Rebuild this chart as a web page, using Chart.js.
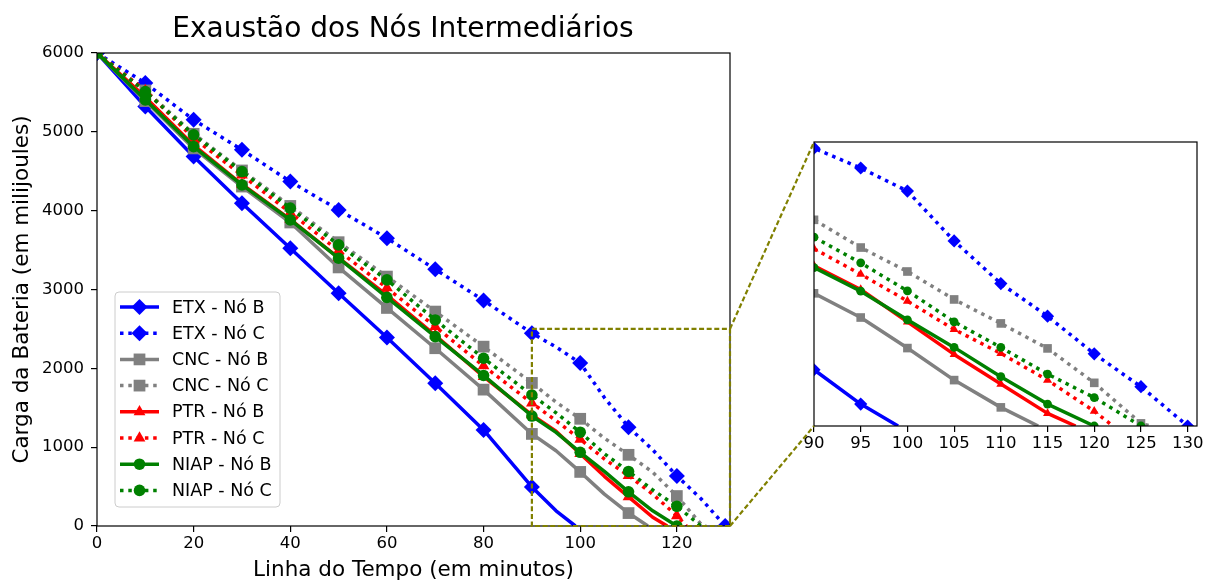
<!DOCTYPE html>
<html><head><meta charset="utf-8">
<script src="https://cdn.jsdelivr.net/npm/chart.js@4.4.1/dist/chart.umd.min.js"></script>
<style>
html,body{margin:0;padding:0;background:#fff;}
#wrap{position:relative;width:1218px;height:583px;background:#fff;}
canvas{position:absolute;}
</style></head><body>
<div id="wrap">
<canvas id="main" width="745" height="583" style="left:0;top:0"></canvas>
<canvas id="inset" width="518" height="583" style="left:700px;top:0"></canvas>
</div>
<script>
// ---- data (minutes, battery charge in millijoules) ----
const minutes = [0,10,20,30,40,50,60,70,80,90,95,100,105,110,115,120,125,130];
const seriesNames = ['ETX - Nó B','ETX - Nó C','CNC - Nó B','CNC - Nó C','PTR - Nó B','PTR - Nó C','NIAP - Nó B','NIAP - Nó C'];
const etxB  = [6000,5321,4687,4095,3524,2953,2392,1811,1218,495,193,null,null,null,null,null,null,null];
const etxC  = [6000,5618,5152,4772,4369,4010,3651,3256,2862,2445,2271,2068,1629,1254,967,635,346,0];
const cncB  = [6000,5390,4790,4306,3850,3280,2766,2255,1730,1168,955,686,404,164,null,null,null,null];
const cncC  = [6000,5525,4975,4510,4060,3600,3164,2720,2275,1815,1571,1360,1114,903,683,380,23,null];
const ptrB  = [6000,5440,4830,4335,3890,3400,2930,2420,1895,1410,1202,917,630,369,111,null,null,null];
const ptrC  = [6000,5525,4920,4450,3975,3490,3020,2529,2030,1560,1336,1100,850,639,404,130,null,null];
const niapB = [6000,5406,4813,4327,3883,3397,2900,2402,1910,1395,1187,935,692,434,193,0,null,null];
const niapC = [6000,5511,4962,4496,4032,3566,3122,2614,2128,1662,1436,1190,917,692,457,250,0,null];
// minute at which each series reaches zero
const exhaustedAt = [99,130,114,126,118,122,120,125];
const seriesValues = [etxB, etxC, cncB, cncC, ptrB, ptrC, niapB, niapC];

// tick labels
const yTicks = [0,1000,2000,3000,4000,5000,6000];
const xTicksMain = [0,20,40,60,80,100,120];
const xTicksInset = [90,95,100,105,110,115,120,125,130];
const zoomRange = {xMin: 90, xMax: 131, yMin: 0, yMax: 2500};

// ---- styles ----
const FONT = "'DejaVu Sans', 'Liberation Sans', sans-serif";
const colors = ['#0000ff','#0000ff','#808080','#808080','#ff0000','#ff0000','#008000','#008000'];
const dotted = [false,true,false,true,false,true,false,true];
const markers = ['rectRot','rectRot','rect','rect','triangle','triangle','circle','circle'];
const mainRadius = {rectRot: 8, rect: 8.3, triangle: 6.8, circle: 5.8};
const insetRadius = {rectRot: 6.6, rect: 6.1, triangle: 5.2, circle: 4.4};
const DASH = [3.5, 4.8];
const LW = 3.5;

function buildPoints(vals, endAt) {
  const pts = [];
  minutes.forEach((m, i) => { if (vals[i] !== null) pts.push({x: m, y: vals[i]}); });
  if (pts[pts.length - 1].y > 0) pts.push({x: endAt, y: 0});
  return pts;
}

function makeDatasets(radiusMap, showMarker) {
  return seriesNames.map((name, i) => ({
    label: name,
    data: buildPoints(seriesValues[i], exhaustedAt[i]),
    borderColor: colors[i],
    backgroundColor: colors[i],
    borderWidth: LW,
    borderDash: dotted[i] ? DASH : [],
    borderCapStyle: 'butt',
    borderJoinStyle: 'round',
    pointStyle: markers[i],
    pointRadius: (ctx) => (ctx.raw && showMarker(ctx.raw.x)) ? radiusMap[markers[i]] : 0,
    pointHoverRadius: 0,
    pointBackgroundColor: colors[i],
    pointBorderColor: colors[i],
    pointBorderWidth: 0,
    tension: 0,
    clip: 0,
    order: seriesNames.length - i
  }));
}

function drawMarker(ctx, style, x, y, r, color) {
  ctx.save();
  ctx.fillStyle = color;
  ctx.beginPath();
  if (style === 'circle') {
    ctx.arc(x, y, r, 0, Math.PI * 2);
  } else if (style === 'rect') {
    const s = Math.SQRT1_2 * r;
    ctx.rect(x - s, y - s, 2 * s, 2 * s);
  } else if (style === 'rectRot') {
    ctx.moveTo(x, y - r); ctx.lineTo(x + r, y); ctx.lineTo(x, y + r); ctx.lineTo(x - r, y);
  } else if (style === 'triangle') {
    for (let k = 0; k < 3; k++) {
      const a = k * 2 * Math.PI / 3;
      const px = x + Math.sin(a) * r, py = y - Math.cos(a) * r;
      if (k === 0) ctx.moveTo(px, py); else ctx.lineTo(px, py);
    }
  }
  ctx.closePath();
  ctx.fill();
  ctx.restore();
}

const framePlugin = {
  id: 'frame',
  afterDraw(chart) {
    const {ctx, chartArea: a} = chart;
    ctx.save();
    ctx.strokeStyle = '#000';
    ctx.lineWidth = 1.2;
    ctx.strokeRect(a.left, a.top, a.right - a.left, a.bottom - a.top);
    ctx.restore();
  }
};

const mainExtras = {
  id: 'mainExtras',
  afterDraw(chart) {
    const {ctx, chartArea: a, scales} = chart;
    // title
    ctx.save();
    ctx.fillStyle = '#000';
    ctx.font = '28px ' + FONT;
    ctx.textAlign = 'center';
    ctx.textBaseline = 'alphabetic';
    ctx.fillText('Exaustão dos Nós Intermediários', 403, 37);
    ctx.restore();
    // zoom box
    const x0 = scales.x.getPixelForValue(zoomRange.xMin), x1 = scales.x.getPixelForValue(zoomRange.xMax);
    const y0 = scales.y.getPixelForValue(zoomRange.yMin), y1 = scales.y.getPixelForValue(zoomRange.yMax);
    ctx.save();
    ctx.strokeStyle = '#808000';
    ctx.lineWidth = 2.2;
    ctx.setLineDash([5, 2.6]);
    ctx.strokeRect(x0, y1, x1 - x0, y0 - y1);
    ctx.restore();
    // legend
    const lx = a.left + 18, lw = 165, lh = 215;
    const ly = a.bottom - 19 - lh;
    ctx.save();
    ctx.fillStyle = 'rgba(255,255,255,0.85)';
    ctx.strokeStyle = '#cccccc';
    ctx.lineWidth = 1;
    const rr = 4;
    ctx.beginPath();
    ctx.moveTo(lx + rr, ly);
    ctx.arcTo(lx + lw, ly, lx + lw, ly + lh, rr);
    ctx.arcTo(lx + lw, ly + lh, lx, ly + lh, rr);
    ctx.arcTo(lx, ly + lh, lx, ly, rr);
    ctx.arcTo(lx, ly, lx + lw, ly, rr);
    ctx.closePath();
    ctx.fill();
    ctx.stroke();
    seriesNames.forEach((name, i) => {
      const cy = ly + 15 + i * 26.2;
      ctx.save();
      ctx.strokeStyle = colors[i];
      ctx.lineWidth = LW;
      ctx.lineCap = 'butt';
      ctx.setLineDash(dotted[i] ? DASH : []);
      ctx.beginPath();
      ctx.moveTo(lx + 5, cy);
      ctx.lineTo(lx + 44, cy);
      ctx.stroke();
      ctx.restore();
      drawMarker(ctx, markers[i], lx + 24.5, cy, mainRadius[markers[i]], colors[i]);
      ctx.fillStyle = '#000';
      ctx.font = '17.5px ' + FONT;
      ctx.textAlign = 'left';
      ctx.textBaseline = 'middle';
      ctx.fillText(name, lx + 57, cy + 1);
    });
    ctx.restore();
  }
};

const tickFont = {family: FONT, size: 16.5};
const plainLabel = (v) => String(v);

const mainChart = new Chart(document.getElementById('main'), {
  type: 'line',
  data: {datasets: makeDatasets(mainRadius, (x) => x % 10 === 0)},
  options: {
    responsive: false,
    animation: false,
    events: [],
    layout: {padding: {left: 0, top: 53, right: 15, bottom: 0}},
    plugins: {legend: {display: false}, tooltip: {enabled: false}},
    scales: {
      x: {
        type: 'linear', min: 0, max: 131,
        afterBuildTicks: (s) => { s.ticks = xTicksMain.map(v => ({value: v})); },
        afterFit: (s) => { s.height = 57; },
        border: {display: false},
        grid: {display: true, drawOnChartArea: false, drawTicks: true, tickLength: 6, color: '#000', lineWidth: 1.2},
        ticks: {color: '#000', font: tickFont, padding: 2, maxRotation: 0, autoSkip: false, callback: plainLabel},
        title: {display: true, text: 'Linha do Tempo (em minutos)', color: '#000', font: {family: FONT, size: 21.5}, padding: {top: 0, bottom: 0}}
      },
      y: {
        type: 'linear', min: 0, max: 6000,
        afterBuildTicks: (s) => { s.ticks = yTicks.map(v => ({value: v})); },
        afterFit: (s) => { s.width = 97; },
        border: {display: false},
        grid: {display: true, drawOnChartArea: false, drawTicks: true, tickLength: 6, color: '#000', lineWidth: 1.2},
        ticks: {color: '#000', font: tickFont, padding: 7, autoSkip: false, callback: plainLabel},
        title: {display: true, text: 'Carga da Bateria (em milijoules)', color: '#000', font: {family: FONT, size: 21.5}, padding: {top: 10, bottom: 0}}
      }
    }
  },
  plugins: [framePlugin, mainExtras]
});

const INSET_LEFT = 700;
const connectors = {
  id: 'connectors',
  afterDraw(chart) {
    const {ctx, chartArea: a} = chart;
    const ms = mainChart.scales;
    const bx = ms.x.getPixelForValue(zoomRange.xMax) - INSET_LEFT;
    const byTop = ms.y.getPixelForValue(zoomRange.yMax);
    const byBot = ms.y.getPixelForValue(zoomRange.yMin);
    ctx.save();
    ctx.strokeStyle = '#808000';
    ctx.lineWidth = 2.2;
    ctx.setLineDash([5, 2.6]);
    ctx.beginPath();
    ctx.moveTo(bx, byTop); ctx.lineTo(a.left, a.top);
    ctx.moveTo(bx, byBot); ctx.lineTo(a.left, a.bottom);
    ctx.stroke();
    ctx.restore();
  }
};

const insetChart = new Chart(document.getElementById('inset'), {
  type: 'line',
  data: {datasets: makeDatasets(insetRadius, (x) => x >= 90 && x % 5 === 0)},
  options: {
    responsive: false,
    animation: false,
    events: [],
    layout: {padding: {left: 114, top: 142, right: 21, bottom: 0}},
    plugins: {legend: {display: false}, tooltip: {enabled: false}},
    scales: {
      x: {
        type: 'linear', min: zoomRange.xMin, max: zoomRange.xMax,
        afterBuildTicks: (s) => { s.ticks = xTicksInset.map(v => ({value: v})); },
        afterFit: (s) => { s.height = 157; },
        border: {display: false},
        grid: {display: true, drawOnChartArea: false, drawTicks: true, tickLength: 6, color: '#000', lineWidth: 1.2},
        ticks: {color: '#000', font: tickFont, padding: 2, maxRotation: 0, autoSkip: false, callback: plainLabel}
      },
      y: {
        type: 'linear', min: zoomRange.yMin, max: zoomRange.yMax,
        display: false
      }
    }
  },
  plugins: [framePlugin, connectors]
});
</script>
</body></html>
